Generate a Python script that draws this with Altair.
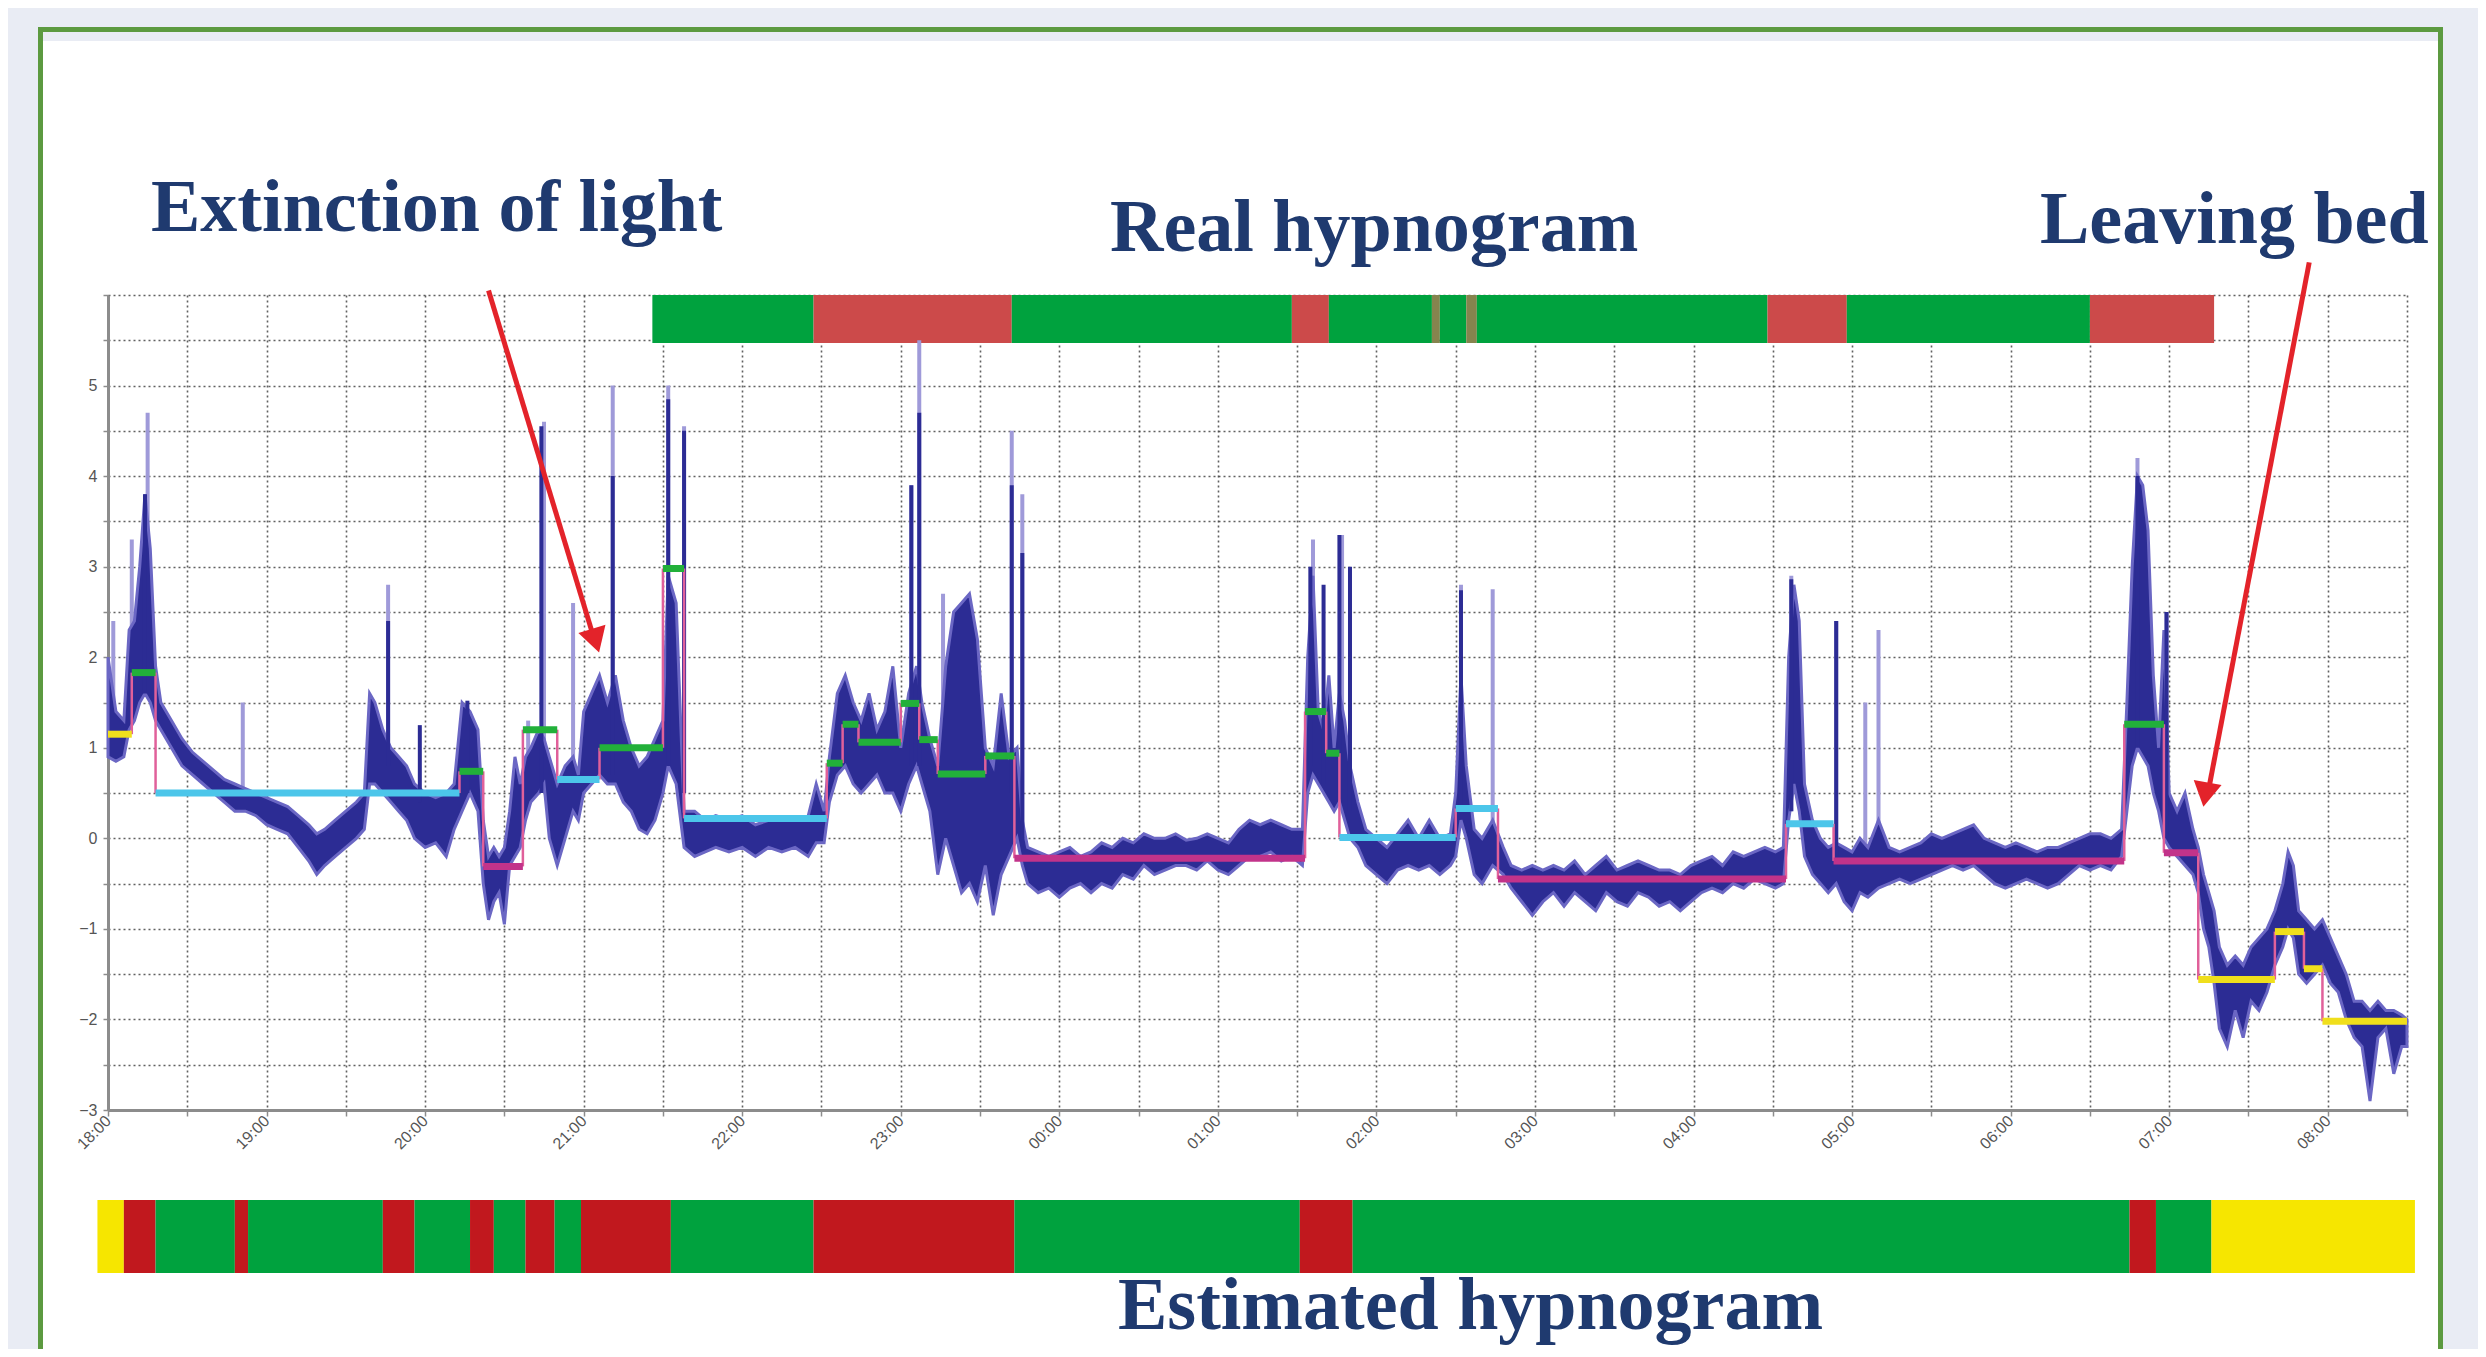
import altair as alt
import pandas as pd

# ---------------- tick labels ----------------
hour_labels = ['18:00', '19:00', '20:00', '21:00', '22:00', '23:00', '00:00', '01:00',
               '02:00', '03:00', '04:00', '05:00', '06:00', '07:00', '08:00']
x_ticks = list(range(0, 871, 30))          # minutes after 18:00, every half hour
y_ticks = [-3 + 0.5 * i for i in range(19)]

# ---------------- signal envelope (minutes after 18:00, low, high) ----------------
band_t = [0, 3, 6, 8, 10, 12, 14, 16, 18, 20,
          24, 28, 32, 36, 40, 44, 48, 52, 56, 60,
          64, 68, 72, 76, 79, 82, 86, 90, 94, 97,
          99, 101, 104, 107, 110, 113, 116, 120, 124, 128,
          131, 134, 137, 140, 142, 144, 146, 148, 150, 152,
          154, 156, 158, 160, 163, 165, 167, 170, 173, 176,
          178, 180, 183, 186, 189, 192, 195, 198, 201, 204,
          207, 210, 212, 215, 218, 222, 226, 230, 235, 240,
          245, 250, 255, 260, 265, 268, 271, 273, 276, 279,
          282, 285, 288, 291, 294, 297, 300, 303, 306, 308,
          311, 314, 317, 320, 323, 326, 329, 332, 335, 338,
          341, 344, 346, 348, 352, 356, 360, 364, 368, 372,
          376, 380, 384, 388, 392, 396, 400, 404, 408, 412,
          416, 420, 424, 428, 432, 436, 440, 444, 448, 452,
          454, 456, 458, 460, 462, 464, 466, 468, 470, 473,
          476, 480, 484, 488, 492, 496, 500, 504, 508, 510,
          512, 514, 517, 520, 524, 528, 531, 535, 539, 543,
          547, 551, 555, 559, 563, 567, 571, 575, 579, 583,
          587, 591, 595, 599, 603, 607, 611, 615, 619, 623,
          627, 631, 634, 636, 638, 640, 642, 645, 648, 651,
          654, 657, 660, 663, 666, 670, 674, 678, 682, 686,
          690, 694, 698, 702, 706, 710, 714, 718, 722, 726,
          730, 734, 738, 742, 746, 750, 754, 758, 762, 764,
          766, 768, 770, 772, 774, 776, 778, 780, 783, 786,
          789, 791, 793, 795, 797, 799, 802, 805, 808, 811,
          814, 817, 820, 823, 825, 827, 829, 832, 835, 838,
          841, 844, 847, 850, 853, 856, 859, 862, 865, 868,
          870]
band_lo = [0.90, 0.85, 0.90, 1.20, 1.30, 1.50, 1.60, 1.50, 1.30, 1.20,
           1.00, 0.80, 0.70, 0.60, 0.50, 0.40, 0.30, 0.30, 0.25, 0.15,
           0.10, 0.05, -0.10, -0.25, -0.40, -0.30, -0.20, -0.10, 0.00, 0.10,
           0.60, 0.60, 0.50, 0.40, 0.30, 0.20, 0.00, -0.10, -0.05, -0.20,
           0.10, 0.30, 0.50, 0.30, -0.50, -0.90, -0.70, -0.60, -0.95, -0.30,
           -0.20, -0.10, 0.20, 0.40, 0.50, 0.60, 0.00, -0.30, 0.00, 0.30,
           0.20, 0.50, 0.60, 0.70, 0.60, 0.60, 0.40, 0.30, 0.10, 0.05,
           0.20, 0.50, 0.80, 0.60, -0.10, -0.20, -0.15, -0.10, -0.15, -0.10,
           -0.20, -0.10, -0.15, -0.10, -0.20, -0.05, -0.05, 0.40, 0.70, 0.80,
           0.60, 0.50, 0.60, 0.70, 0.50, 0.50, 0.30, 0.60, 0.80, 0.60,
           0.30, -0.40, 0.00, -0.30, -0.60, -0.50, -0.70, -0.30, -0.85, -0.40,
           -0.20, 0.00, -0.30, -0.50, -0.60, -0.55, -0.65, -0.55, -0.50, -0.60,
           -0.50, -0.55, -0.40, -0.45, -0.30, -0.40, -0.35, -0.30, -0.30, -0.35,
           -0.25, -0.35, -0.40, -0.30, -0.20, -0.20, -0.15, -0.25, -0.20, -0.30,
           0.50, 0.70, 0.60, 0.50, 0.40, 0.30, 0.40, 0.20, 0.00, -0.10,
           -0.30, -0.40, -0.50, -0.35, -0.30, -0.35, -0.30, -0.40, -0.30, -0.20,
           0.20, 0.00, -0.40, -0.50, -0.30, -0.40, -0.55, -0.70, -0.85, -0.70,
           -0.60, -0.75, -0.60, -0.70, -0.80, -0.60, -0.70, -0.75, -0.60, -0.65,
           -0.75, -0.70, -0.80, -0.70, -0.60, -0.55, -0.60, -0.50, -0.55, -0.45,
           -0.50, -0.55, -0.50, 0.20, 0.60, 0.30, -0.20, -0.40, -0.50, -0.60,
           -0.50, -0.70, -0.80, -0.60, -0.65, -0.55, -0.50, -0.45, -0.50, -0.45,
           -0.40, -0.35, -0.30, -0.35, -0.30, -0.40, -0.50, -0.55, -0.50, -0.45,
           -0.50, -0.55, -0.50, -0.40, -0.30, -0.35, -0.30, -0.35, -0.20, 0.30,
           0.80, 1.00, 0.90, 0.80, 0.50, 0.30, 0.00, -0.10, -0.20, -0.30,
           -0.40, -0.60, -1.00, -1.20, -1.60, -2.10, -2.30, -1.90, -2.20, -1.80,
           -1.90, -1.70, -1.40, -1.20, -1.00, -1.10, -1.50, -1.60, -1.50, -1.40,
           -1.60, -1.70, -2.00, -2.20, -2.30, -2.90, -2.20, -2.10, -2.60, -2.30,
           -2.30]
band_hi = [2.00, 1.40, 1.30, 2.30, 2.40, 3.00, 3.80, 3.20, 1.90, 1.50,
           1.30, 1.10, 0.95, 0.85, 0.75, 0.65, 0.60, 0.55, 0.50, 0.45,
           0.40, 0.35, 0.25, 0.15, 0.05, 0.10, 0.20, 0.30, 0.40, 0.50,
           1.60, 1.50, 1.20, 1.00, 0.90, 0.80, 0.60, 0.50, 0.45, 0.50,
           0.60, 1.50, 1.40, 1.20, 0.20, -0.20, -0.10, -0.20, -0.10, 0.30,
           0.90, 0.60, 0.90, 1.00, 1.20, 1.10, 0.90, 0.60, 0.80, 0.90,
           0.70, 1.40, 1.60, 1.80, 1.50, 1.80, 1.30, 1.00, 0.80, 0.90,
           1.10, 1.30, 2.90, 2.60, 0.30, 0.30, 0.20, 0.25, 0.20, 0.25,
           0.15, 0.20, 0.20, 0.20, 0.25, 0.60, 0.30, 0.90, 1.60, 1.80,
           1.50, 1.30, 1.60, 1.20, 1.40, 1.90, 1.00, 1.60, 1.90, 1.50,
           1.10, 0.80, 1.90, 2.50, 2.60, 2.70, 2.20, 1.00, 0.80, 1.60,
           0.90, 1.00, 0.20, -0.10, -0.15, -0.20, -0.15, -0.10, -0.20, -0.15,
           -0.05, -0.10, 0.00, -0.05, 0.05, 0.00, 0.00, 0.05, -0.02, 0.00,
           0.05, 0.00, -0.05, 0.10, 0.20, 0.15, 0.20, 0.15, 0.10, 0.10,
           2.00, 2.90, 1.40, 1.20, 1.80, 1.00, 1.60, 1.30, 0.80, 0.40,
           0.10, 0.00, -0.10, 0.05, 0.20, 0.00, 0.20, 0.00, 0.05, 0.50,
           1.80, 0.80, 0.10, 0.00, 0.20, -0.10, -0.30, -0.35, -0.30, -0.35,
           -0.30, -0.35, -0.25, -0.40, -0.30, -0.20, -0.35, -0.30, -0.25, -0.30,
           -0.35, -0.35, -0.40, -0.30, -0.25, -0.20, -0.30, -0.15, -0.20, -0.15,
           -0.10, -0.15, -0.10, 2.00, 2.80, 2.40, 0.60, 0.20, 0.00, -0.10,
           -0.05, -0.10, -0.15, 0.00, -0.10, 0.20, -0.10, -0.15, -0.10, -0.05,
           0.05, 0.00, 0.05, 0.10, 0.15, 0.00, -0.05, -0.10, -0.05, -0.10,
           -0.15, -0.10, -0.10, -0.05, 0.00, 0.05, 0.05, 0.00, 0.10, 1.50,
           3.00, 4.00, 3.90, 3.40, 1.80, 1.00, 2.30, 0.50, 0.30, 0.50,
           0.10, -0.10, -0.40, -0.60, -0.80, -1.20, -1.40, -1.30, -1.40, -1.20,
           -1.10, -1.00, -0.80, -0.50, -0.15, -0.30, -0.80, -0.90, -1.00, -0.90,
           -1.10, -1.30, -1.50, -1.80, -1.80, -1.90, -1.80, -1.90, -1.90, -1.95,
           -2.00]

# ---------------- thin spikes ----------------
light_t = [2, 9, 15, 51, 106, 159, 165, 176, 191, 212, 218, 304, 307, 316, 342, 346,
           456, 467, 512, 524, 637, 654, 665, 670, 768, 779]
light_base = [1.0, 1.3, 1.6, 0.4, 0.8, 0.3, 0.5, 0.3, 0.7, 0.8, 0.5, 0.8, 0.8, 0.5, 0.5, 0.0,
              0.8, 0.5, 0.3, -0.2, 0.3, -0.2, -0.3, -0.2, 1.0, 0.0]
light_peak = [2.4, 3.3, 4.7, 1.5, 2.8, 1.3, 4.6, 2.6, 5.0, 5.0, 4.55, 3.9, 5.5, 2.7, 4.5, 3.8,
              3.3, 3.35, 2.8, 2.75, 2.9, 2.4, 1.5, 2.3, 4.2, 2.5]

dark_t = [14, 106, 118, 136, 164, 191, 212, 218, 304, 307, 342, 346, 455, 460, 466, 470,
          512, 637, 654, 768, 779]
dark_base = [1.6, 0.8, 0.4, 0.5, 0.5, 0.7, 0.8, 0.5, 0.8, 0.8, 0.5, 0.0, 0.8, 0.6, 0.5, 0.3,
             0.3, 0.3, -0.2, 1.0, 0.0]
dark_peak = [3.8, 2.4, 1.25, 1.52, 4.55, 4.0, 4.85, 4.5, 3.9, 4.7, 3.9, 3.15, 3.0, 2.8, 3.35, 3.0,
             2.74, 2.86, 2.4, 4.0, 2.5]

# ---------------- estimated levels (step segments) ----------------
lvl_start = [0, 9, 18, 133, 142, 157, 170, 186, 210, 218, 272, 278, 284, 300, 307, 314, 332,
             343, 453, 461, 466, 510, 526, 635, 653, 763, 778, 791, 820, 831, 838]
lvl_end = [9, 18, 133, 142, 157, 170, 186, 210, 218, 272, 278, 284, 300, 307, 314, 332, 343,
           453, 461, 466, 510, 526, 635, 653, 763, 778, 791, 820, 831, 838, 870]
lvl_value = [1.15, 1.83, 0.50, 0.74, -0.31, 1.20, 0.65, 1.00, 2.98, 0.22, 0.83, 1.26, 1.06,
             1.49, 1.09, 0.71, 0.91, -0.22, 1.40, 0.94, 0.01, 0.33, -0.45, 0.16, -0.25, 1.26,
             -0.16, -1.56, -1.03, -1.44, -2.02]
lvl_class = ['Y', 'G', 'C', 'G', 'M', 'G', 'C', 'G', 'G', 'C', 'G', 'G', 'G', 'G', 'G', 'G', 'G',
             'M', 'G', 'G', 'C', 'C', 'M', 'C', 'M', 'G', 'M', 'Y', 'Y', 'Y', 'Y']

# ---------------- hypnograms ----------------
real_start = [206, 267, 342, 448, 462, 501, 504, 514, 518, 628, 658, 750]
real_end = [267, 342, 448, 462, 501, 504, 514, 518, 628, 658, 750, 797]
real_stage = ['Sleep', 'Wake', 'Sleep', 'Wake', 'Sleep', 'Other', 'Sleep', 'Other', 'Sleep',
              'Wake', 'Sleep', 'Wake']

est_start = [-4, 6, 18, 48, 53, 104, 116, 137, 146, 158, 169, 179, 213, 267, 343, 451, 471,
             765, 775, 796]
est_end = [6, 18, 48, 53, 104, 116, 137, 146, 158, 169, 179, 213, 267, 343, 451, 471, 765,
           775, 796, 873]
est_stage = ['Out', 'Wake', 'Sleep', 'Wake', 'Sleep', 'Wake', 'Sleep', 'Wake', 'Sleep', 'Wake',
             'Sleep', 'Wake', 'Sleep', 'Wake', 'Sleep', 'Wake', 'Sleep', 'Wake', 'Sleep', 'Out']

# ---------------- annotation arrows ----------------
arrow_name = ['light', 'light', 'bed', 'bed']
arrow_t = [144, 184, 833, 795]
arrow_v = [6.05, 2.2, 6.36, 0.55]
tip_t = [186, 793]
tip_v = [2.05, 0.35]

titles = ['Extinction of light', 'Real hypnogram', 'Leaving bed', 'Estimated hypnogram']

# ---------------- tables ----------------
band_df = pd.DataFrame({'t': band_t, 'lo': band_lo, 'hi': band_hi})
light_df = pd.DataFrame({'t': light_t, 'b': light_base, 'p': light_peak})
dark_df = pd.DataFrame({'t': dark_t, 'b': dark_base, 'p': dark_peak})
lvl_df = pd.DataFrame({'s': lvl_start, 'e': lvl_end, 'v': lvl_value, 'c': lvl_class})
conn_df = pd.DataFrame({'t': lvl_start[1:], 'v0': lvl_value[:-1], 'v1': lvl_value[1:]})
real_df = pd.DataFrame({'s': real_start, 'e': real_end, 'stage': real_stage})
est_df = pd.DataFrame({'s': est_start, 'e': est_end, 'stage': est_stage})
arrow_df = pd.DataFrame({'name': arrow_name, 't': arrow_t, 'v': arrow_v})
one = pd.DataFrame({'k': [1]})

# ---------------- scales / axes ----------------
W, H = 2299, 815
xs = alt.Scale(domain=[0, 870], nice=False, zero=False)
ys = alt.Scale(domain=[-3, 6], nice=False, zero=False)
js_hours = '[' + ','.join("'%s'" % h for h in hour_labels) + ']'
grid_kw = dict(grid=True, gridColor='#3a3a3a', gridDash=[2, 3], gridWidth=1.6, gridOpacity=0.8,
               domainColor='#8c8c8c', domainWidth=3, tickColor='#8c8c8c', tickWidth=1.5,
               labelFont='Liberation Sans', labelFontSize=16, labelColor='#555555',
               title=None, labelOverlap=False)
x_axis = alt.Axis(values=x_ticks,
                  labelExpr="datum.value % 60 == 0 ? " + js_hours + "[datum.value / 60] : ''",
                  labelAngle=315, labelAlign='right', labelBaseline='middle', labelPadding=2,
                  tickSize=6, labelFlush=False, **grid_kw)
y_axis = alt.Axis(values=y_ticks,
                  labelExpr="datum.value % 1 == 0 && datum.value < 6 ? format(datum.value, 'd') : ''",
                  tickSize=5, labelPadding=6, **grid_kw)


def X(f):
    return alt.X(f, scale=xs, axis=x_axis)


def Y(f):
    return alt.Y(f, scale=ys, axis=y_axis)


PAGE_BG = '#e9ecf4'
GREEN_BORDER = '#5c9a40'


def box(x0, x1, y0, y1, color):
    return alt.Chart(one).mark_rect(color=color).encode(
        x=alt.value(x0), x2=alt.value(x1), y=alt.value(y0), y2=alt.value(y1))


frame = [
    box(-100, -70, -287, 1054, PAGE_BG),
    box(-100, 2370, -287, -268, PAGE_BG),
    box(2335, 2370, -287, 1054, PAGE_BG),
    box(-70, 2335, -268, -263, GREEN_BORDER),
    box(-70, -65, -268, 1054, GREEN_BORDER),
    box(2330, 2335, -268, 1054, GREEN_BORDER),
    box(-65, 2330, -263, -254, PAGE_BG),
]

real_bar = alt.Chart(real_df).mark_rect().encode(
    x=X('s:Q'), x2='e:Q', y=alt.value(0), y2=alt.value(48),
    color=alt.Color('stage:N', legend=None,
                    scale=alt.Scale(domain=['Sleep', 'Wake', 'Other'],
                                    range=['#00a23e', '#cc4a4a', '#86844e'])))

light = alt.Chart(light_df).mark_rule(color='#9f9ad9', strokeWidth=4).encode(
    x=X('t:Q'), y=Y('b:Q'), y2='p:Q')

band = alt.Chart(band_df).mark_area(color='#2c2c94', stroke='#6b67c4', strokeWidth=3).encode(
    x=X('t:Q'), y=Y('lo:Q'), y2='hi:Q')

dark = alt.Chart(dark_df).mark_rule(color='#2c2c94', strokeWidth=4).encode(
    x=X('t:Q'), y=Y('b:Q'), y2='p:Q')

conn = alt.Chart(conn_df).mark_rule(color='#e0609a', strokeWidth=2.5).encode(
    x=X('t:Q'), y=Y('v0:Q'), y2='v1:Q')

levels = alt.Chart(lvl_df).mark_rule(strokeWidth=7).encode(
    x=X('s:Q'), x2='e:Q', y=Y('v:Q'),
    color=alt.Color('c:N', legend=None,
                    scale=alt.Scale(domain=['Y', 'G', 'C', 'M'],
                                    range=['#f0df1c', '#22b03a', '#4cc6ea', '#c2338a'])))

arrows = alt.Chart(arrow_df).mark_line(color='#e3232a', strokeWidth=5).encode(
    x=X('t:Q'), y=Y('v:Q'), detail='name:N')

head1 = alt.Chart(pd.DataFrame({'t': tip_t[:1], 'v': tip_v[:1]})).mark_point(
    shape='triangle-down', filled=True, size=800, color='#e3232a', opacity=1,
    angle=343, xOffset=-4, yOffset=-12).encode(x=X('t:Q'), y=Y('v:Q'))
head2 = alt.Chart(pd.DataFrame({'t': tip_t[1:], 'v': tip_v[1:]})).mark_point(
    shape='triangle-down', filled=True, size=800, color='#e3232a', opacity=1,
    angle=10, xOffset=2, yOffset=-12).encode(x=X('t:Q'), y=Y('v:Q'))

est_bar = alt.Chart(est_df).mark_rect().encode(
    x=X('s:Q'), x2='e:Q', y=alt.value(905), y2=alt.value(978),
    color=alt.Color('stage:N', legend=None,
                    scale=alt.Scale(domain=['Sleep', 'Wake', 'Out'],
                                    range=['#00a23e', '#c1181e', '#f6e600'])))

title_pos = [(43, -64), (1002, -44), (1932, -52), (1010, 1034)]
text_layers = []
for txt, (tx, ty) in zip(titles, title_pos):
    text_layers.append(
        alt.Chart(pd.DataFrame({'label': [txt]})).mark_text(
            x=tx, y=ty, align='left', baseline='alphabetic', font='Liberation Serif',
            fontWeight='bold', fontSize=74, color='#1f3a6f').encode(text='label:N'))

chart = alt.layer(
    *frame, real_bar, light, band, dark, conn, levels, arrows, head1, head2, est_bar,
    *text_layers
).resolve_scale(color='independent').properties(
    width=W, height=H,
    autosize=alt.AutoSizeParams(type='none'),
    padding={'left': 100, 'top': 287, 'right': 71, 'bottom': 239},
).configure(background='white').configure_view(stroke=None)

chart.save('out.html', embed_options={'renderer': 'svg', 'actions': False})
